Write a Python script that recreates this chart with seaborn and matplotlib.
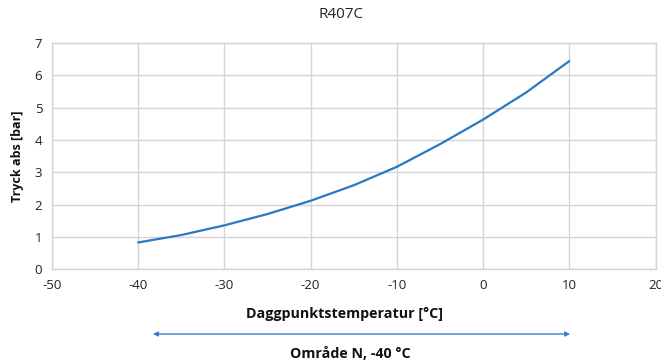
import matplotlib
matplotlib.use("Agg")
import matplotlib.pyplot as plt
import seaborn as sns
import pandas as pd

temps = [-40, -35, -30, -25, -20, -15, -10, -5, 0, 5, 10]
pressure = [0.83, 1.06, 1.36, 1.71, 2.12, 2.60, 3.17, 3.87, 4.63, 5.47, 6.44]
x_ticks = [-50, -40, -30, -20, -10, 0, 10, 20]
y_ticks = [0, 1, 2, 3, 4, 5, 6, 7]
title = "R407C"
x_label = "Daggpunktstemperatur [°C]"
y_label = "Tryck abs [bar]"
range_label = "Område N, -40 °C"
range_start, range_end = -38.3, 10.1

sns.set_theme(style="white")
plt.rcParams['font.family'] = ['Open Sans', 'DejaVu Sans']
plt.rcParams['axes.unicode_minus'] = False

df = pd.DataFrame({"t": temps, "p": pressure})

fig = plt.figure(figsize=(6.61, 3.64), dpi=100)
ax = fig.add_axes([52/661, 1-269.3/364, (655.5-52)/661, (269.3-43)/364])

line_color = "#2a78c2"
sns.lineplot(data=df, x="t", y="p", ax=ax, color=line_color, linewidth=1.6)

ax.set_xlim(-50, 20)
ax.set_ylim(0, 7)
ax.set_xticks(x_ticks)
ax.set_yticks(y_ticks)
ax.grid(True, color="#d4d4d4", linewidth=1.0)
for s in ax.spines.values():
    s.set_color("#d4d4d4")
    s.set_linewidth(1.0)
ax.tick_params(axis="both", length=0, labelsize=9.5, colors="#222222", pad=7)
ax.tick_params(axis="y", pad=7)

ax.set_xlabel(x_label, fontsize=10.3, fontweight="bold", color="#111111")
ax.xaxis.set_label_coords(0.485, -0.165)
ax.set_ylabel(y_label, fontsize=9, fontweight="bold", color="#111111")
ax.yaxis.set_label_coords(-0.047, 0.5)

fig.text(341/661, 1-15/364, title, ha="center", va="center", fontsize=11, color="#222222")

tr = ax.get_xaxis_transform()
ax.annotate("", xy=(range_end, -0.286), xytext=(range_start, -0.286),
            xycoords=tr, textcoords=tr, annotation_clip=False,
            arrowprops=dict(arrowstyle="<|-|>", color="#3a7fca", lw=1.0,
                            mutation_scale=7, shrinkA=0, shrinkB=0))
fig.text(350/661, 1-354.5/364, range_label, ha="center", va="center",
         fontsize=10.3, fontweight="bold", color="#111111")

fig.savefig("out.png", dpi=100)
